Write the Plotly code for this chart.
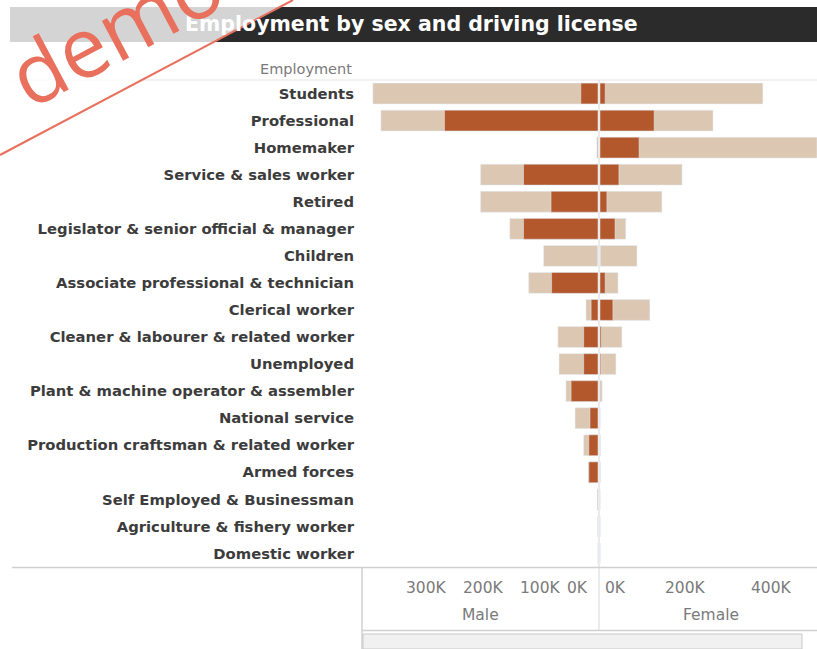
import plotly.graph_objects as go

# ---- data (people) ----
categories = [
    "Students", "Professional", "Homemaker", "Service & sales worker", "Retired",
    "Legislator & senior official & manager", "Children",
    "Associate professional & technician", "Clerical worker",
    "Cleaner & labourer & related worker", "Unemployed",
    "Plant & machine operator & assembler", "National service",
    "Production craftsman & related worker", "Armed forces",
    "Self Employed & Businessman", "Agriculture & fishery worker", "Domestic worker",
]
male_total = [393000, 379000, 2000, 205000, 205000, 154000, 95000, 121000, 21000,
              70000, 68000, 56000, 40000, 25000, 17000, 1000, 1000, 0]
male_license = [30000, 268000, 1000, 130000, 82000, 130000, 0, 81000, 12000,
                25000, 25000, 47000, 14000, 16000, 16000, 500, 0, 0]
female_total = [379000, 263000, 505000, 191000, 144000, 60000, 86000, 42000, 116000,
                51000, 37000, 5000, 0, 1000, 1000, 0, 0, 0]
female_license = [12000, 126000, 91000, 44000, 16000, 35000, 0, 12000, 30000,
                  3000, 2000, 1000, 0, 0, 0, 0, 0, 0]

male_ticks = [300000, 200000, 100000, 0]
female_ticks = [0, 200000, 400000]
male_range = [412000, 0]
female_range = [0, 505000]

W, H = 817, 649
LIGHT = "#dcc7b3"
DARK = "#b3582d"
FONT = "DejaVu Sans"


def px(x):
    return x / W


def py(y):
    return 1 - y / H


def k_label(v):
    return f"{int(v / 1000)}K"


fig = go.Figure()
common = dict(orientation="h", y=categories, width=0.77, hoverinfo="skip")
fig.add_trace(go.Bar(x=male_total, marker_color=LIGHT, xaxis="x", yaxis="y", name="Male", **common))
fig.add_trace(go.Bar(x=male_license, marker_color=DARK, xaxis="x", yaxis="y", name="Male licensed", **common))
fig.add_trace(go.Bar(x=female_total, marker_color=LIGHT, xaxis="x2", yaxis="y", name="Female", **common))
fig.add_trace(go.Bar(x=female_license, marker_color=DARK, xaxis="x2", yaxis="y", name="Female licensed", **common))

axis_common = dict(showgrid=False, zeroline=False, showticklabels=False, ticks="",
                   showline=False, fixedrange=True)

shapes = [
    # title bar
    dict(type="rect", xref="paper", yref="paper", x0=px(10), x1=px(817), y0=py(42), y1=py(7),
         fillcolor="#2b2b2b", line_width=0, layer="below"),
    # header separator and pane frame
    dict(type="line", xref="paper", yref="paper", x0=px(12), x1=px(817), y0=py(80), y1=py(80),
         line=dict(color="#e4e4e4", width=1), layer="below"),
    dict(type="line", xref="paper", yref="paper", x0=px(12), x1=px(817), y0=py(567.5), y1=py(567.5),
         line=dict(color="#d0d0d0", width=1.5), layer="below"),
    dict(type="line", xref="paper", yref="paper", x0=px(362), x1=px(362), y0=py(567), y1=py(649),
         line=dict(color="#d0d0d0", width=1.5), layer="below"),
    dict(type="line", xref="paper", yref="paper", x0=px(362), x1=px(817), y0=py(630.5), y1=py(630.5),
         line=dict(color="#d0d0d0", width=1.5), layer="below"),
    # divider between the two panes
    dict(type="line", xref="paper", yref="paper", x0=px(599), x1=px(599), y0=py(80), y1=py(630),
         line=dict(color="#d6d6d6", width=1), layer="below"),
    # horizontal scrollbar
    dict(type="rect", xref="paper", yref="paper", x0=px(363), x1=px(802), y0=py(649), y1=py(634),
         fillcolor="#f1f1f1", line=dict(color="#c8c8c8", width=1), layer="below"),
    # demo ribbon
    dict(type="path", xref="paper", yref="paper",
         path=f"M 0 {py(0)} L {px(293)} {py(0)} L 0 {py(155)} Z",
         fillcolor="rgba(255,255,255,0.8)", line_width=0, layer="above"),
    dict(type="line", xref="paper", yref="paper", x0=0, x1=px(293), y0=py(155), y1=py(0),
         line=dict(color="#e8705d", width=2), layer="above"),
]

annotations = [
    dict(text="Employment by sex and driving license", xref="paper", yref="paper",
         x=px(183), y=py(24), xanchor="left", yanchor="middle", showarrow=False,
         font=dict(family=FONT, size=20.5, color="#ffffff", weight="bold")),
    dict(text="Employment", xref="paper", yref="paper", x=px(354), y=py(69),
         xanchor="right", yanchor="middle", showarrow=False,
         font=dict(family=FONT, size=14.5, color="#7a7a7a")),
    dict(text="Male", xref="paper", yref="paper", x=px(481), y=py(615),
         xanchor="center", yanchor="middle", showarrow=False,
         font=dict(family=FONT, size=15.5, color="#7a7a7a")),
    dict(text="Female", xref="paper", yref="paper", x=px(711), y=py(615),
         xanchor="center", yanchor="middle", showarrow=False,
         font=dict(family=FONT, size=15.5, color="#7a7a7a")),
    dict(text="demo", xref="paper", yref="paper", x=px(114), y=py(28),
         xanchor="center", yanchor="middle", showarrow=False, textangle=-28,
         font=dict(family="Open Sans", size=84, color="#e8705d")),
]

tick_font = dict(family=FONT, size=15.5, color="#7a7a7a")
for v in male_ticks:
    a = dict(text=k_label(v), xref="x", yref="paper", x=v, y=py(588), showarrow=False,
             yanchor="middle", font=tick_font, xanchor="center")
    if v == 0:
        a.update(xanchor="right", xshift=-8)
    annotations.append(a)
for v in female_ticks:
    a = dict(text=k_label(v), xref="x2", yref="paper", x=v, y=py(588), showarrow=False,
             yanchor="middle", font=tick_font, xanchor="center")
    if v == 0:
        a.update(xanchor="left", xshift=3)
    annotations.append(a)

fig.update_layout(
    width=W, height=H,
    margin=dict(l=0, r=0, t=0, b=0),
    paper_bgcolor="white", plot_bgcolor="white",
    barmode="overlay", bargap=0.23, showlegend=False,
    xaxis=dict(domain=[px(362), px(598)], range=male_range, anchor="y", **axis_common),
    xaxis2=dict(domain=[px(600), px(817)], range=female_range, anchor="y", **axis_common),
    yaxis=dict(domain=[py(567), py(80)], anchor="x", type="category",
               categoryorder="array", categoryarray=categories,
               range=[len(categories) - 0.5, -0.5],
               showgrid=False, zeroline=False, ticks="", showline=False, fixedrange=True,
               ticklabelstandoff=7,
               tickfont=dict(family=FONT, size=14.8, color="#3c3c3c", weight="bold")),
    shapes=shapes,
    annotations=annotations,
)

fig.write_html("out.html")
